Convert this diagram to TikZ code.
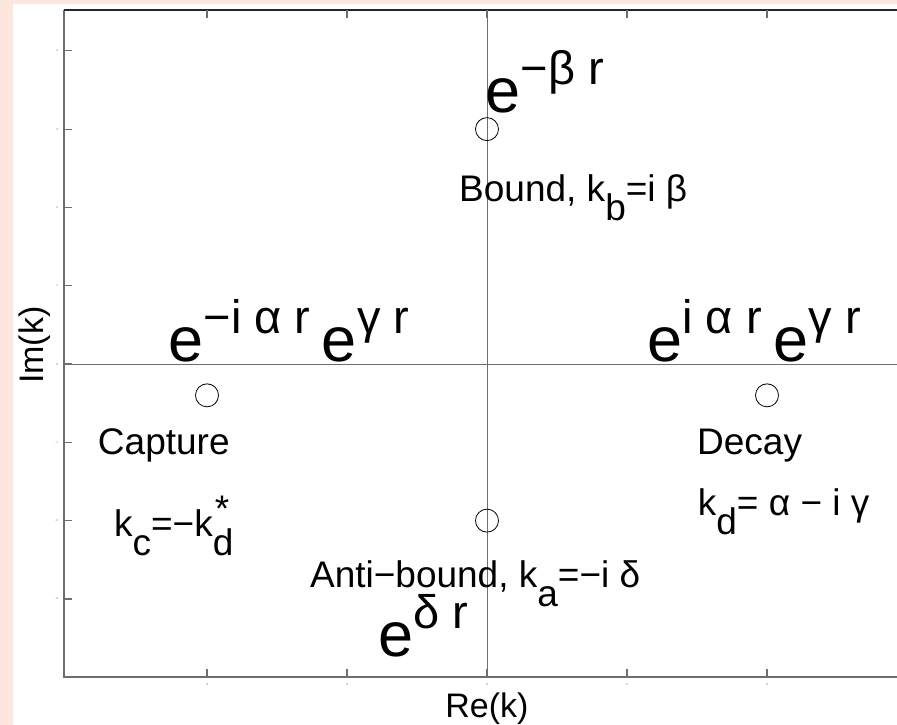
\documentclass[tikz,border=0pt]{standalone}
\usepackage{fontspec}
\setmainfont{Liberation Sans}
\usetikzlibrary{positioning}

\definecolor{pagebg}{RGB}{253,230,221}
\definecolor{axgray}{RGB}{110,110,110}

% lowered index and exponential with raised power
\newcommand{\lowr}[1]{\raisebox{-19pt}{#1}}
\newcommand{\expo}[2]{{\fontsize{63}{63}\selectfont #1}\raisebox{28pt}{\fontsize{47}{47}\selectfont #2}}

\begin{document}
\begin{tikzpicture}[x=70pt, y=78.3pt,
    lbl/.style={font=\fontsize{37}{37}\selectfont, inner sep=0pt, anchor=base west},
    big/.style={inner sep=0pt, anchor=base west},
    pole/.style={draw, circle, minimum size=23pt, inner sep=0pt, line width=0.8pt},
    tck/.style={font=\fontsize{3}{3}\selectfont, inner sep=0pt, text=axgray},
    axlbl/.style={font=\fontsize{34}{34}\selectfont, inner sep=0pt}]

    % page and plot area
    \useasboundingbox (-6.957,4.649) rectangle (5.857,-4.610);
    \fill[pagebg] (-6.957,4.649) rectangle (5.857,-4.610);
    \fill[white] (-6.771,4.598) rectangle (5.857,-4.610);

    % axes through the origin
    \draw[axgray, line width=0.9pt] (-6.04,0) -- (6,0);
    \draw[axgray, line width=0.9pt] (0,-4) -- (0,4.52);

    % frame and ticks
    \draw[axgray, line width=2pt] (6,-4) -- (-6.04,-4) -- (-6.04,4.52);
    \draw[black!85, line width=1.5pt] (-6.04,4.52) -- (6,4.52);
    \foreach \v in {4,3,...,-3} {
        \draw[axgray, line width=1.2pt] (-6.04,\v) -- ++(8pt,0);
        \node[tck, left=6pt] at (-6.04,\v) {\v};
    }
    \foreach \u in {-4,-2,...,4} {
        \draw[axgray, line width=1.2pt] (\u,-4) -- ++(0,8pt);
        \draw[axgray, line width=1.2pt] (\u,4.52) -- ++(0,-8pt);
        \node[tck, below=6pt] at (\u,-4) {\u};
    }

    % poles
    \node[pole] (bound)     at (0,3)     {};
    \node[pole] (antibound) at (0,-2)    {};
    \node[pole] (capture)   at (-4,-0.4) {};
    \node[pole] (decay)     at (4,-0.4)  {};

    % labels
    \node[big] (eb)  at (-0.02,3.206) {\expo{e}{−β r}};
    \node[lbl] (bl)  at (-0.40,2.07)  {Bound, k\lowr{b}=i β};
    \node[big] (ecl) at (-4.55,0.03)  {\expo{e}{−i α r}};
    \node[big] (ecg) at (-2.36,0.03)  {\expo{e}{γ r}};
    \node[big] (edl) at (2.29,0.03)   {\expo{e}{i α r}};
    \node[big] (edg) at (4.09,0.03)   {\expo{e}{γ r}};
    \node[lbl] (cl)  at (-5.56,-1.16) {Capture};
    \node[lbl] (ck)  at (-5.33,-2.20) {k\lowr{c}=−k\lowr{d}\kern-0.5em\raisebox{15pt}{*}};
    \node[lbl] (dl)  at (3.00,-1.16)  {Decay};
    \node[lbl] (dk)  at (3.01,-1.93)  {k\lowr{d}= α − i γ};
    \node[lbl] (al)  at (-2.53,-2.85) {Anti−bound, k\lowr{a}=−i δ};
    \node[big] (ea)  at (-1.55,-3.74) {\expo{e}{δ r}};

    % axis titles
    \node[axlbl, anchor=base] (rek) at (0,-4.51) {Re(k)};
    \node[axlbl, anchor=base, rotate=90] (imk) at (-6.33,0.24) {Im(k)};
\end{tikzpicture}
\end{document}
